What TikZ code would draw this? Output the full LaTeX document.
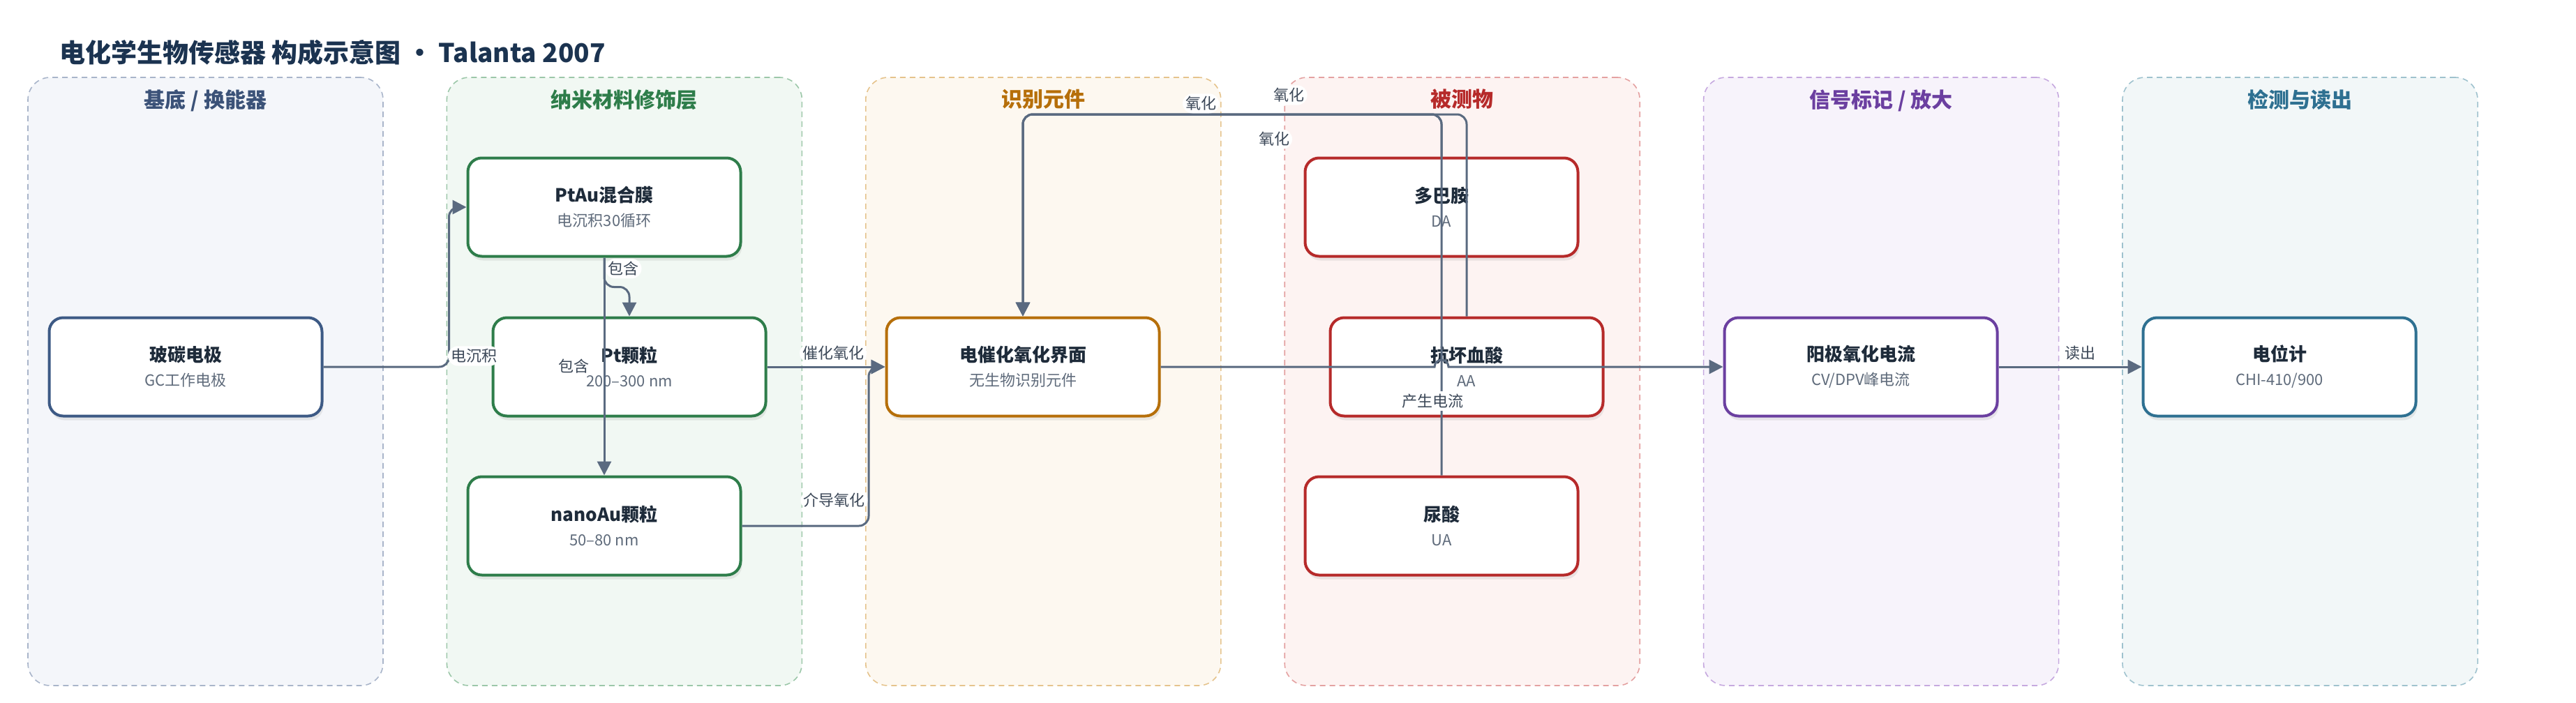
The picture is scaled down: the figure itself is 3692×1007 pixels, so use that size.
\documentclass[tikz,border=0pt]{standalone}
\usepackage{fontspec}
\setmainfont{Noto Sans CJK SC}
\usepackage{tikz}
\usetikzlibrary{positioning, arrows.meta, shadows, calc}
\definecolor{ink}{HTML}{1E2B3A}
\definecolor{titlec}{HTML}{1B3350}
\definecolor{subg}{HTML}{5F6B7B}
\definecolor{edge}{HTML}{5A6A80}
\definecolor{lab}{HTML}{3C4858}
\definecolor{laneAb}{HTML}{A9B5CA}\definecolor{laneAf}{HTML}{F4F6FA}\definecolor{laneAh}{HTML}{3B5278}\definecolor{laneAn}{HTML}{3D5A85}
\definecolor{laneBb}{HTML}{9CC7A9}\definecolor{laneBf}{HTML}{F1F8F3}\definecolor{laneBh}{HTML}{2E7D4A}
\definecolor{laneCb}{HTML}{E5C38C}\definecolor{laneCf}{HTML}{FDF8F0}\definecolor{laneCh}{HTML}{B66F0A}
\definecolor{laneDb}{HTML}{E4A1A1}\definecolor{laneDf}{HTML}{FDF3F2}\definecolor{laneDh}{HTML}{B62A2A}
\definecolor{laneEb}{HTML}{C6A9DF}\definecolor{laneEf}{HTML}{F7F3FB}\definecolor{laneEh}{HTML}{6B3FA0}
\definecolor{laneFb}{HTML}{9FC2CE}\definecolor{laneFf}{HTML}{F2F7F8}\definecolor{laneFh}{HTML}{2E7091}
\tikzstyle{lane}=[%
      rectangle, rounded corners=16pt, dash pattern=on 4pt off 3pt, line width=0.8pt,
      minimum width=254.5pt, minimum height=436pt
]
\tikzstyle{hd}=[%
      font=\fontsize{15}{18}\selectfont\bfseries
]
\tikzstyle{blk}=[%
      rectangle, rounded corners=10pt, line width=2pt, fill=white,
      drop shadow={opacity=0.15, shadow xshift=1pt, shadow yshift=-3pt},
      minimum width=195.5pt, minimum height=70.5pt, align=center, font=\fontsize{11}{17.5}\selectfont
]
\tikzstyle{lbl}=[%
      fill=white, inner sep=2pt, text=lab, font=\fontsize{11}{13}\selectfont
]
\tikzstyle{arr}=[%
      draw=edge, line width=1.5pt, rounded corners=7pt, -{Triangle[length=10pt,width=10pt]}
]
\newcommand{\blktxt}[2]{{\fontsize{13}{17.5}\selectfont\bfseries\color{ink}#1}\\{\color{subg}#2}}

\begin{document}
\begin{tikzpicture}[x=0.5pt, y=-0.5pt]
    \useasboundingbox (0,0) rectangle (3692,1007);

    \node[anchor=west, text=titlec, font=\fontsize{18.5}{22}\selectfont\bfseries] (ttl) at (78,75)
        {电化学生物传感器 构成示意图 · Talanta 2007};

    \node[lane, draw=laneAb, fill=laneAf] (base)    at (294.5,547)  {};
    \node[lane, draw=laneBb, fill=laneBf] (nano)    at (894.9,547)  {};
    \node[lane, draw=laneCb, fill=laneCf] (recog)   at (1495.3,547) {};
    \node[lane, draw=laneDb, fill=laneDf] (analyte) at (2095.7,547) {};
    \node[lane, draw=laneEb, fill=laneEf] (signal)  at (2696.1,547) {};
    \node[lane, draw=laneFb, fill=laneFf] (readout) at (3296.5,547) {};

    \node[hd, text=laneAh, below=5.5pt of base.north]    (hbase)    {基底 / 换能器};
    \node[hd, text=laneBh, below=5.5pt of nano.north]    (hnano)    {纳米材料修饰层};
    \node[hd, text=laneCh, below=5.5pt of recog.north]   (hrecog)   {识别元件};
    \node[hd, text=laneDh, below=5.5pt of analyte.north] (hanalyte) {被测物};
    \node[hd, text=laneEh, below=5.5pt of signal.north]  (hsignal)  {信号标记 / 放大};
    \node[hd, text=laneFh, below=5.5pt of readout.north] (hreadout) {检测与读出};

    \node[blk, draw=laneAn] (gc)    at (266,526)  {\blktxt{玻碳电极}{GC工作电极}};
    \node[blk, draw=laneBh] (ptau)  at (866,297)  {\blktxt{PtAu混合膜}{电沉积30循环}};
    \node[blk, draw=laneBh] (pt)    at (902,526)  {\blktxt{Pt颗粒}{200–300 nm}};
    \node[blk, draw=laneBh] (nau)   at (866,754)  {\blktxt{nanoAu颗粒}{50–80 nm}};
    \node[blk, draw=laneCh] (iface) at (1466,526) {\blktxt{电催化氧化界面}{无生物识别元件}};
    \node[blk, draw=laneDh] (da)    at (2066,297) {\blktxt{多巴胺}{DA}};
    \node[blk, draw=laneDh] (aa)    at (2102,526) {\blktxt{抗坏血酸}{AA}};
    \node[blk, draw=laneDh] (ua)    at (2066,754) {\blktxt{尿酸}{UA}};
    \node[blk, draw=laneEh] (anod)  at (2667,526) {\blktxt{阳极氧化电流}{CV/DPV峰电流}};
    \node[blk, draw=laneFh] (pot)   at (3267,526) {\blktxt{电位计}{CHI-410/900}};

    \coordinate (top) at (0,164);

    \draw[arr] (gc.east) -- ++(180,0) node[lbl, anchor=south west, pos=1, xshift=-1.5pt] {电沉积} |- (ptau.west);
    \draw[arr] (ptau.south) node[lbl, below right] {包含} -- ++(0,42) -| (pt.north);
    \draw[arr] (ptau.south) -- node[lbl, fill=none, left=8pt] {包含} (nau.north);
    \draw[arr] (pt.east) -- node[lbl, above, pos=0.56, yshift=2pt] {催化氧化} (iface.west);
    \draw[arr] (nau.east) -- ++(181.5,0) node[lbl, above left, pos=1, yshift=10.5pt] {介导氧化} |- (iface.west);

    \draw[arr] (ua.north) -- (ua.north |- top) -- node[lbl, below, pos=0.4, yshift=-10pt] {氧化} (iface.north |- top) -- (iface.north);
    \draw[arr] (da.north) -- (da.north |- top) -- node[lbl, above, pos=0.575] {氧化} (iface.north |- top) -- (iface.north);
    \draw[arr] (aa.north) -- (aa.north |- top) -- node[lbl, above, pos=0.4, yshift=6pt] {氧化} (iface.north |- top) -- (iface.north);

    \draw[arr, sharp corners] (iface.east) -- ($(ua.north |- iface.east)+(-10,0)$)
        node[lbl, below, pos=1, xshift=-1.5pt, yshift=-16.5pt] {产生电流}
        arc[start angle=180, end angle=0, radius=5pt] -- (anod.west);
    \draw[arr] (anod.east) -- node[lbl, above, pos=0.57, yshift=2pt] {读出} (pot.west);

\end{tikzpicture}
\end{document}
